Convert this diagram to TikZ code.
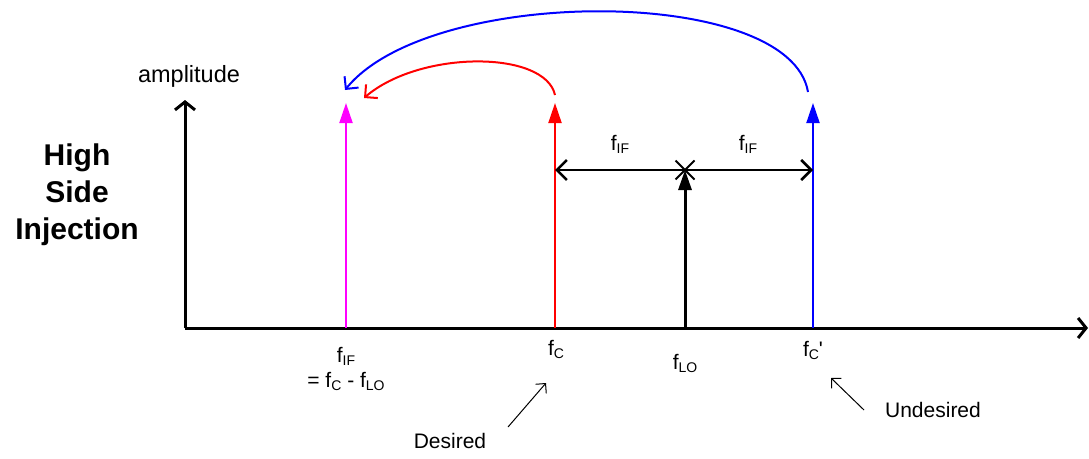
\documentclass[tikz,border=0pt]{standalone}
\usepackage{fontspec}
\setmainfont{Liberation Sans}
\usetikzlibrary{arrows.meta,positioning,shapes.misc}
\definecolor{HsiMagenta}{HTML}{FF00FF}
\definecolor{HsiRed}{HTML}{FF0000}
\definecolor{HsiBlue}{HTML}{0000FF}
\newcommand\fsub[1]{f\raisebox{-0.15em}{\fontsize{14}{14}\selectfont #1}}
\tikzset{
  hsi axis/.style={-{Straight Barb[length=8pt,width=20pt]},line width=3pt},
  hsi tone/.style={-{Triangle[length=20pt,width=13pt]},line width=2pt},
  hsi span/.style={
    {Straight Barb[length=10pt,width=20pt]}-{Straight Barb[length=10pt,width=20pt]},
    line width=2.5pt
  },
  hsi hop/.style={-{Straight Barb[length=9pt,width=18pt]},line width=2pt},
  hsi pointer/.style={-{Straight Barb[length=7pt,width=14pt]},line width=1pt},
  hsi mark/.style={cross out,draw,line width=2pt,minimum size=17pt,inner sep=0pt},
  hsi label/.style={font=\fontsize{21}{21}\selectfont,inner sep=0pt,anchor=base},
  hsi title/.style={font=\fontsize{30}{37}\selectfont\bfseries,align=center,inner sep=0pt}
}

\begin{document}
\begin{tikzpicture}[x=1pt,y=-1pt]
  \useasboundingbox (0,0) rectangle (1089,458);

  \node[hsi title] (title) at (77,195) {High\\Side\\Injection};
  \node[hsi label,font=\fontsize{23.5}{24}\selectfont] (amp) at (189,82) {amplitude};

  % axes
  \coordinate (origin) at (185,328);
  \coordinate (yend) at (185,100);
  \coordinate (xend) at (1088,328);
  \draw[hsi axis] (origin) -- (yend);
  \draw[hsi axis] (origin) -- (xend);

  % tones
  \coordinate (fif base) at (346,328);
  \coordinate (fif top) at (346,103);
  \coordinate (fc base) at (555,328);
  \coordinate (fc top) at (555,103);
  \coordinate (flo base) at (685,328);
  \coordinate (fcp base) at (813,328);
  \coordinate (fcp top) at (813,103);
  \node[hsi mark] (lo mark) at (685,170) {};

  \draw[hsi tone,HsiMagenta] (fif base) -- (fif top);
  \draw[hsi tone,HsiRed] (fc base) -- (fc top);
  \draw[hsi tone,line width=3pt] (flo base) -- (lo mark.center);
  \draw[hsi tone,HsiBlue] (fcp base) -- (fcp top);

  \coordinate (span left) at (555,170);
  \coordinate (span right) at (813,170);
  \draw[hsi span] (span left) -- (span right);
  \node[hsi label] (if left) at (620,150) {\fsub{IF}};
  \node[hsi label] (if right) at (748,150) {\fsub{IF}};

  % fold-back arcs
  \coordinate (red start) at (555,95);
  \coordinate (red end) at (364,98);
  \coordinate (blue start) at (808,92);
  \coordinate (blue end) at (345,90);
  \draw[hsi hop,HsiRed] (red start) .. controls (545,50) and (420,50) .. (red end);
  \draw[hsi hop,HsiBlue] (blue start) .. controls (790,-15) and (430,-15) .. (blue end);

  % axis labels
  \node[hsi label] (fif lbl) at (346,362) {\fsub{IF}};
  \node[hsi label] (fif eq) at (346,387) {= \fsub{C} - \fsub{LO}};
  \node[hsi label] (fc lbl) at (556,355) {\fsub{C}};
  \node[hsi label] (flo lbl) at (685,369) {\fsub{LO}};
  \node[hsi label] (fcp lbl) at (813,356) {\fsub{C}\textquotesingle};

  \node[hsi label] (desired) at (450,448) {Desired};
  \node[hsi label] (undesired) at (933,417) {Undesired};
  \coordinate (desired tail) at (508,427);
  \coordinate (desired head) at (546,383);
  \coordinate (undesired tail) at (864,410);
  \coordinate (undesired head) at (831,378);
  \draw[hsi pointer] (desired tail) -- (desired head);
  \draw[hsi pointer] (undesired tail) -- (undesired head);
\end{tikzpicture}
\end{document}
